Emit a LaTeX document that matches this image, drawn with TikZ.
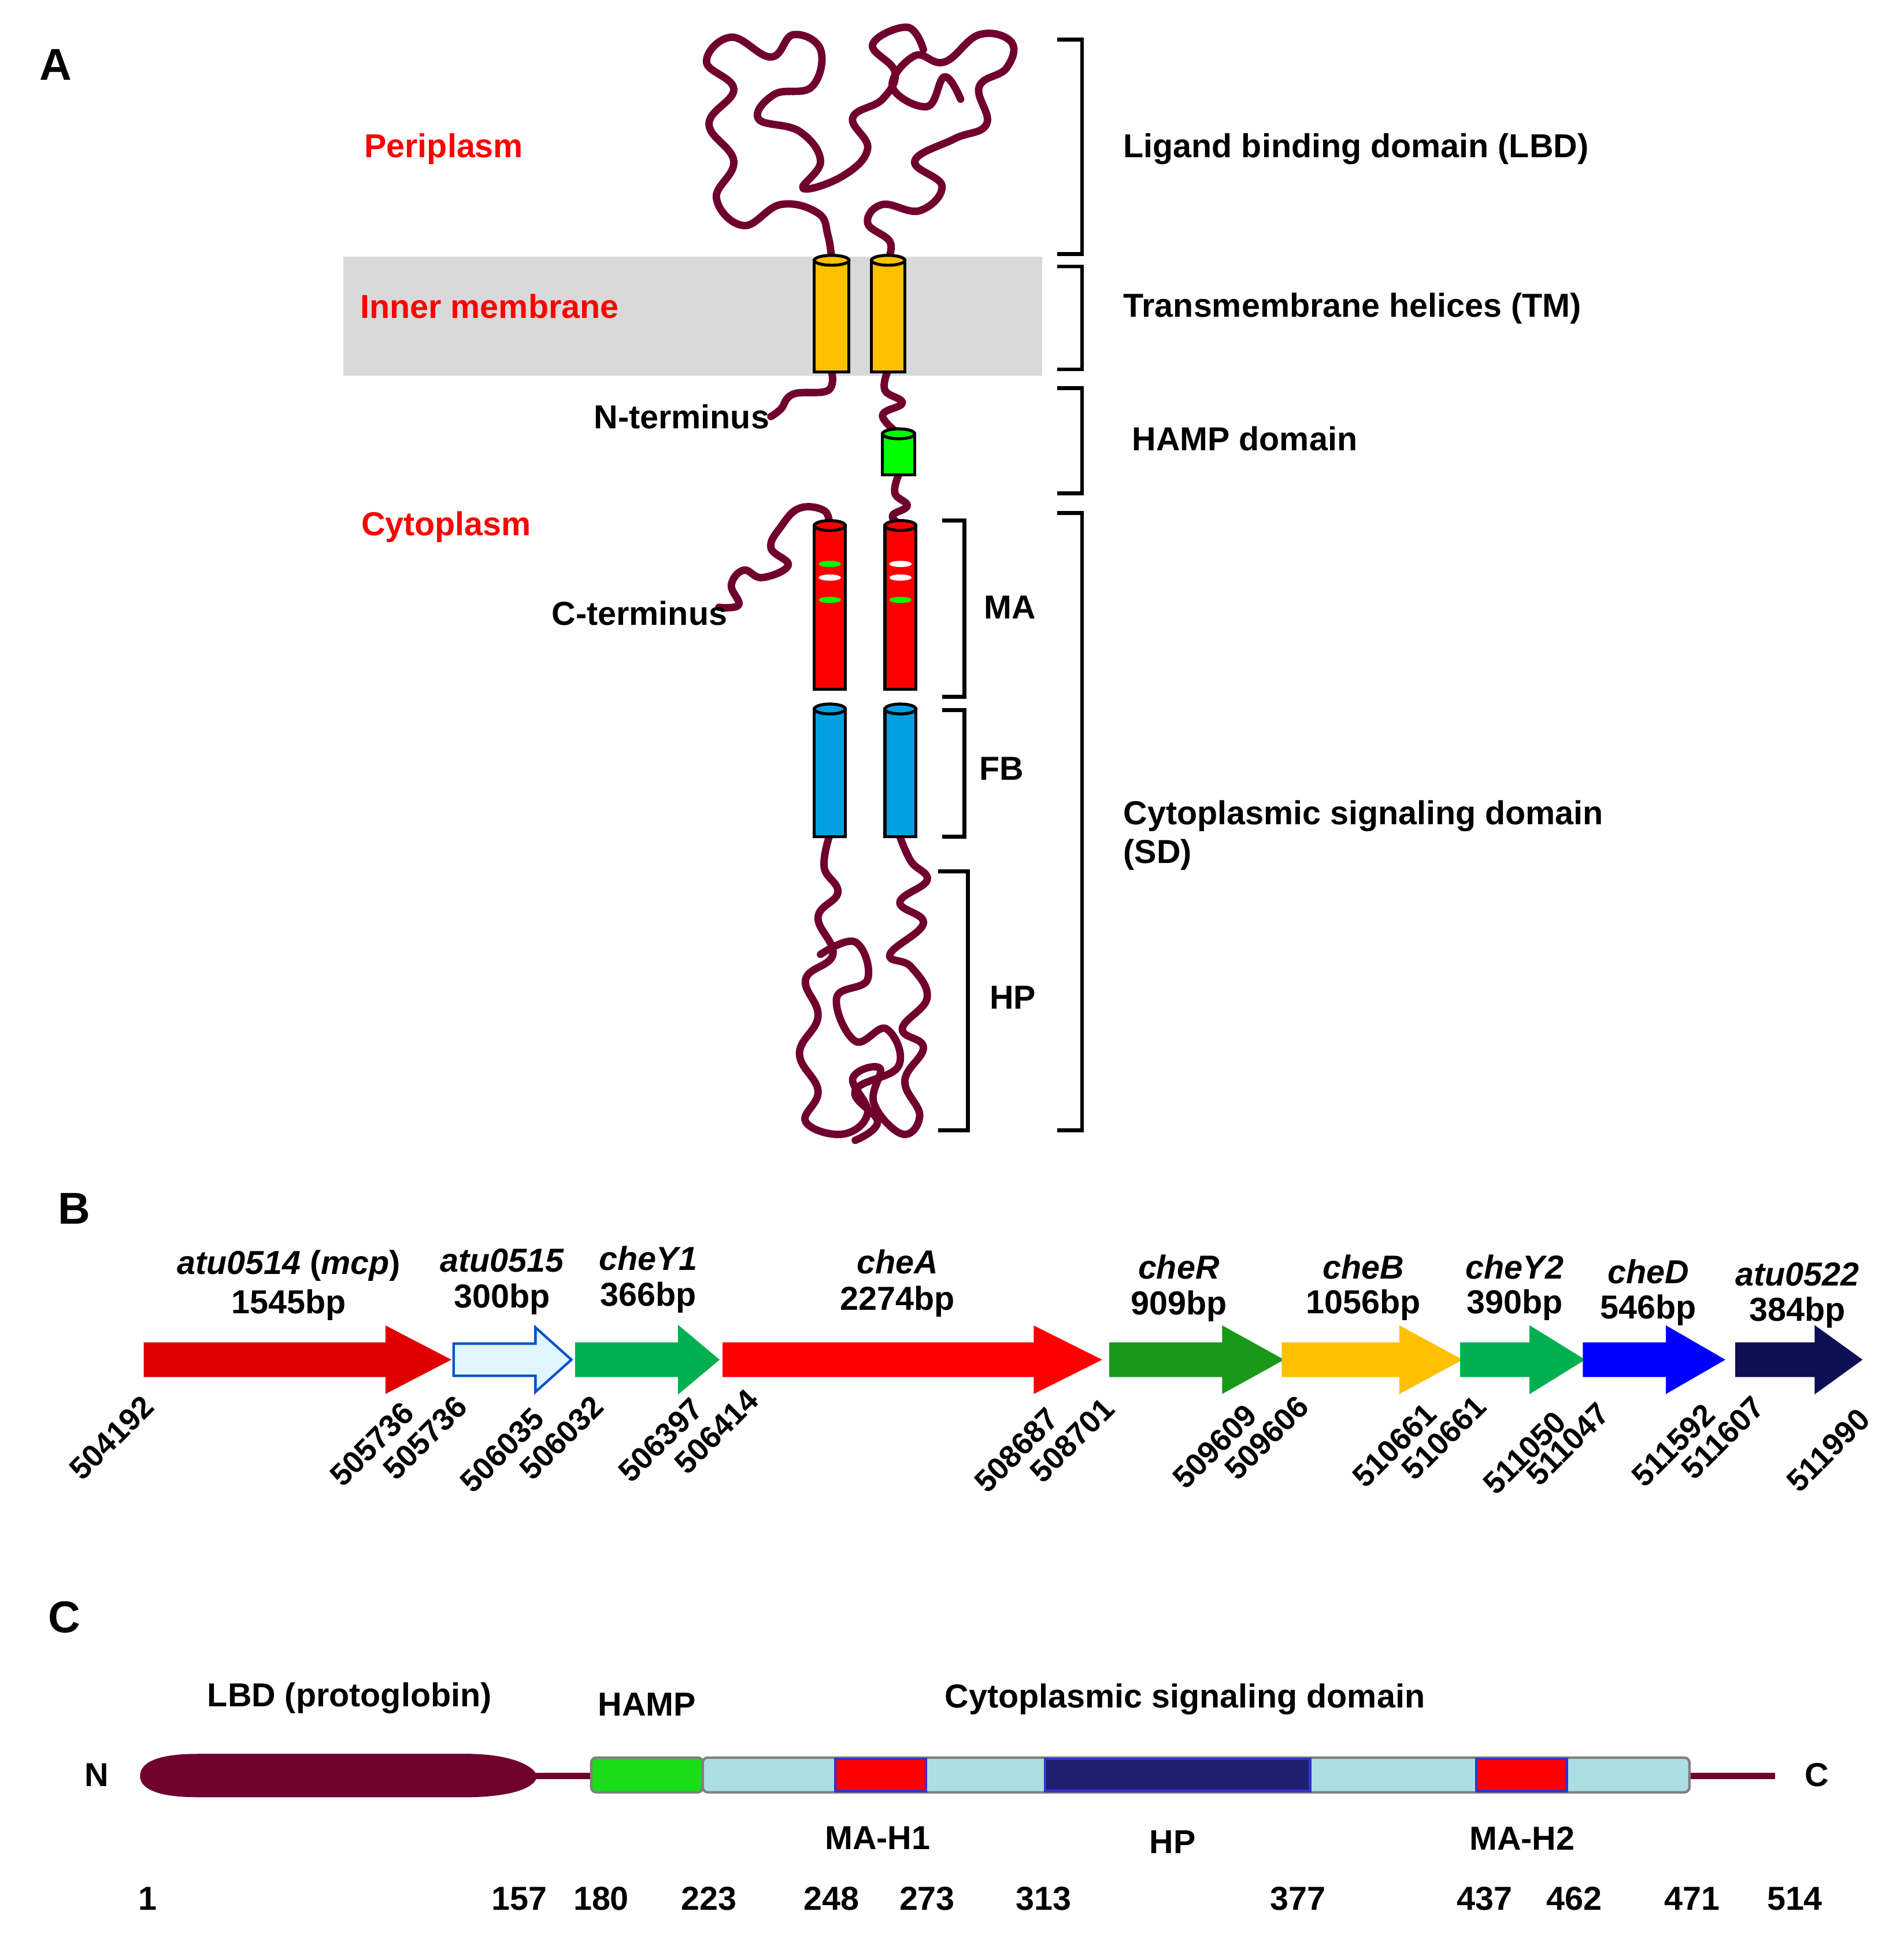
\documentclass[tikz,border=0pt]{standalone}
\usepackage{fontspec}
\setmainfont{Liberation Sans}
\usetikzlibrary{shapes.misc}
\definecolor{wine}{RGB}{112,0,46}
\definecolor{yel}{RGB}{255,192,0}
\definecolor{grn}{RGB}{0,176,80}
\definecolor{cyanb}{RGB}{0,160,226}
\definecolor{lblue}{RGB}{171,223,227}
\definecolor{navy}{RGB}{31,31,112}
\begin{document}
\begin{tikzpicture}[x=0.5pt,y=-0.5pt,
 lab/.style={font=\fontsize{13.4}{15.5}\selectfont\bfseries,inner sep=1pt},
 red lab/.style={lab,text=red},
 gene/.style={font=\fontsize{13.4}{15.5}\selectfont\bfseries\itshape,inner sep=1pt},
 num/.style={font=\fontsize{12.5}{14}\selectfont\bfseries,rotate=45,inner sep=1pt},
 chain/.style={draw=wine,line width=3pt,line join=round,line cap=round},
 brk/.style={draw=black,line width=1.6pt},
 cyl/.style={draw=black,line width=1.2pt}]
\useasboundingbox (0,0) rectangle (1536,1566);
\newcommand\cylinder[5]{% x1 x2 y1 y2 color
 \fill[#5,cyl] (#1,#3) rectangle (#2,#4);
 \fill[#5,cyl] ({(#1+#2)/2},#3) ellipse ({(#2-#1)/2} and 4);}
% Panel A
\node[font=\fontsize{18}{20}\selectfont\bfseries] (A) at (45,52) {A};
\fill[gray!30] (277,207) rectangle (841,303);
\node[red lab] (peri) at (358,120) {Periplasm};
\node[red lab] (inner) at (395,247) {Inner membrane};
\node[red lab] (cyto) at (360,425) {Cytoplasm};
% chains
\draw[chain] plot[smooth,tension=0.7] coordinates {(671,210) (668,190) (660,172) (630,165) (600,182) (578,160) (592,130) (572,100) (592,72) (570,50) (590,30) (622,46) (640,28) (662,40) (655,70) (625,76) (612,96) (645,106) (662,130) (648,152) (680,142) (700,120) (688,95) (712,80) (722,58) (704,36) (732,22) (745,40)};
\draw[chain] plot[smooth,tension=0.7] coordinates {(716,210) (718,195) (700,180) (712,165) (742,170) (760,150) (738,130) (770,112) (796,100) (790,70) (812,55) (816,34) (790,28) (762,50) (738,45) (720,70) (748,86) (762,62) (775,80)};
\draw[chain] plot[smooth,tension=0.7] coordinates {(671,300) (668,315) (640,318) (630,330) (622,336)};
\draw[chain] plot[smooth,tension=0.7] coordinates {(716,300) (714,315) (728,325) (712,335) (725,350)};
\draw[chain] plot[smooth,tension=0.7] coordinates {(725,383) (722,398) (732,408) (720,416) (727,424)};
\draw[chain] plot[smooth,tension=0.7] coordinates {(669,424) (665,412) (645,410) (630,425) (622,442) (636,456) (615,466) (600,460) (590,472) (596,488) (580,490)};
\draw[chain] plot[smooth,tension=0.7] coordinates {(669,675) (665,700) (676,720) (660,740) (672,770) (650,790) (660,820) (645,850) (660,880) (650,905) (680,915) (700,898) (688,870) (710,862) (705,890) (728,915) (742,900) (730,872) (745,845) (728,830) (748,805) (735,780) (718,770) (745,745) (726,728) (748,710) (735,695) (726,675)};
\draw[chain] plot[smooth,tension=0.7] coordinates {(662,770) (690,760) (700,790) (675,805) (690,840) (715,830) (725,860) (690,880) (708,905) (690,920)};
\cylinder{657}{685}{210}{300}{yel}
\cylinder{703}{730}{210}{300}{yel}
\cylinder{712}{738}{350}{383}{green}
\cylinder{657}{682}{424}{556}{red}
\cylinder{714}{739}{424}{556}{red}
\fill[green] (669.5,455) ellipse (9 and 2.5);
\fill[white] (669.5,466) ellipse (9 and 2.5);
\fill[green] (669.5,484) ellipse (9 and 2.5);
\fill[white] (726.5,455) ellipse (9 and 2.5);
\fill[white] (726.5,466) ellipse (9 and 2.5);
\fill[green] (726.5,484) ellipse (9 and 2.5);
\cylinder{657}{682}{572}{675}{cyanb}
\cylinder{714}{739}{572}{675}{cyanb}
\node[lab] (nt) at (550,336) {N-terminus};
\node[lab] (ct) at (516,495) {C-terminus};
\draw[brk] (853,32) -- (873,32) -- (873,205) -- (853,205);
\draw[brk] (853,215) -- (873,215) -- (873,298) -- (853,298);
\draw[brk] (853,313) -- (873,313) -- (873,398) -- (853,398);
\draw[brk] (853,414) -- (873,414) -- (873,912) -- (853,912);
\draw[brk] (760,420) -- (778,420) -- (778,562) -- (760,562);
\draw[brk] (760,573) -- (778,573) -- (778,675) -- (760,675);
\draw[brk] (757,703) -- (781,703) -- (781,912) -- (757,912);
\node[lab,anchor=west] (lbd) at (904,120) {Ligand binding domain (LBD)};
\node[lab,anchor=west] (tm) at (904,249) {Transmembrane helices (TM)};
\node[lab,anchor=west] (hamp) at (911,354) {HAMP domain};
\node[lab,anchor=west,align=left] (sd) at (904,674) {Cytoplasmic signaling domain\\(SD)};
\node[lab] (ma) at (815,490) {MA};
\node[lab] (fb) at (808,620) {FB};
\node[lab] (hp) at (817,805) {HP};
% Panel B
\node[font=\fontsize{18}{20}\selectfont\bfseries] (B) at (60,975) {B};
\newcommand\garrow[5]{% x1 head x2 fill draw
 \filldraw[fill=#4,draw=#5,line width=1pt] (#1,1084) -- (#2,1084) -- (#2,1071) -- (#3,1097) -- (#2,1123) -- (#2,1110) -- (#1,1110) -- cycle;}
\garrow{117}{312}{362}{red!88!black}{red!88!black}
\garrow{366}{432}{461}{cyan!12}{blue!60!cyan!80!black}
\garrow{465}{548}{579}{grn}{grn}
\garrow{584}{835}{887}{red}{red}
\garrow{896}{987}{1034}{green!55!black!90}{green!55!black!90}
\garrow{1035}{1130}{1178}{yel}{yel}
\garrow{1179}{1235}{1277}{grn}{grn}
\garrow{1278}{1345}{1390}{blue}{blue}
\garrow{1401}{1465}{1501}{navy!80!blue!60!black}{navy!80!blue!60!black}
\node[gene] (g1) at (233,1021) {atu0514 \normalfont\bfseries(\itshape mcp\normalfont\bfseries)};
\node[lab] (b1) at (233,1053) {1545bp};
\node[gene] (g2) at (405,1017) {atu0515}; \node[lab] (b2) at (405,1048) {300bp};
\node[gene] (g3) at (523,1015) {cheY1}; \node[lab] (b3) at (523,1047) {366bp};
\node[gene] (g4) at (724,1018) {cheA}; \node[lab] (b4) at (724,1050) {2274bp};
\node[gene] (g5) at (951,1022) {cheR}; \node[lab] (b5) at (951,1054) {909bp};
\node[gene] (g6) at (1100,1022) {cheB}; \node[lab] (b6) at (1100,1053) {1056bp};
\node[gene] (g7) at (1222,1022) {cheY2}; \node[lab] (b7) at (1222,1053) {390bp};
\node[gene] (g8) at (1330,1026) {cheD}; \node[lab] (b8) at (1330,1057) {546bp};
\node[gene] (g9) at (1450,1028) {atu0522}; \node[lab] (b9) at (1450,1059) {384bp};
\foreach \x/\y/\t [count=\i] in {90/1160/504192,300/1165/505736,343/1160/505736,405/1170/506035,453/1160/506032,533/1162/506397,578/1155/506414,820/1170/508687,865/1162/508701,980/1167/509609,1022/1160/509606,1125/1166/510661,1165/1160/510661,1230/1172/511050,1265/1165/511047,1350/1166/511592,1390/1160/511607,1475/1170/511990}
 \node[num] (n\i) at (\x,\y) {\t};
% Panel C
\node[font=\fontsize{18}{20}\selectfont\bfseries] (C) at (52,1305) {C};
\draw[wine,line width=2.5pt] (400,1433) -- (1432,1433);
\fill[wine] (160,1415) -- (380,1415) .. controls (420,1416) and (433,1428) .. (433,1433) .. controls (433,1440) and (420,1449) .. (380,1450) -- (160,1450) .. controls (120,1450) and (113,1440) .. (113,1433) .. controls (113,1425) and (120,1415) .. (160,1415) -- cycle;
\filldraw[fill=green!85!black!90,draw=gray,line width=1pt,rounded corners=2pt] (477,1418) rectangle (567,1446);
\filldraw[fill=lblue,draw=gray,line width=1pt,rounded corners=2pt] (567,1418) rectangle (1363,1446);
\filldraw[fill=red,draw=blue!60!gray,line width=1pt] (674,1419) rectangle (747,1445);
\filldraw[fill=red,draw=blue!60!gray,line width=1pt] (1191,1419) rectangle (1264,1445);
\filldraw[fill=navy,draw=blue!60!gray,line width=1pt] (843,1419) rectangle (1057,1445);
\node[lab] (N) at (78,1432) {N};
\node[lab] (Cc) at (1466,1432) {C};
\node[lab] (l1) at (282,1370) {LBD (protoglobin)};
\node[lab] (l2) at (522,1375) {HAMP};
\node[lab] (l3) at (956,1371) {Cytoplasmic signaling domain};
\node[lab] (l4) at (708,1483) {MA-H1};
\node[lab] (l5) at (946,1486) {HP};
\node[lab] (l6) at (1228,1483) {MA-H2};
\foreach \x/\t [count=\i] in {119/1,419/157,485/180,572/223,671/248,748/273,842/313,1047/377,1198/437,1270/462,1365/471,1448/514}
 \node[lab] (p\i) at (\x,1532) {\t};
\end{tikzpicture}
\end{document}
